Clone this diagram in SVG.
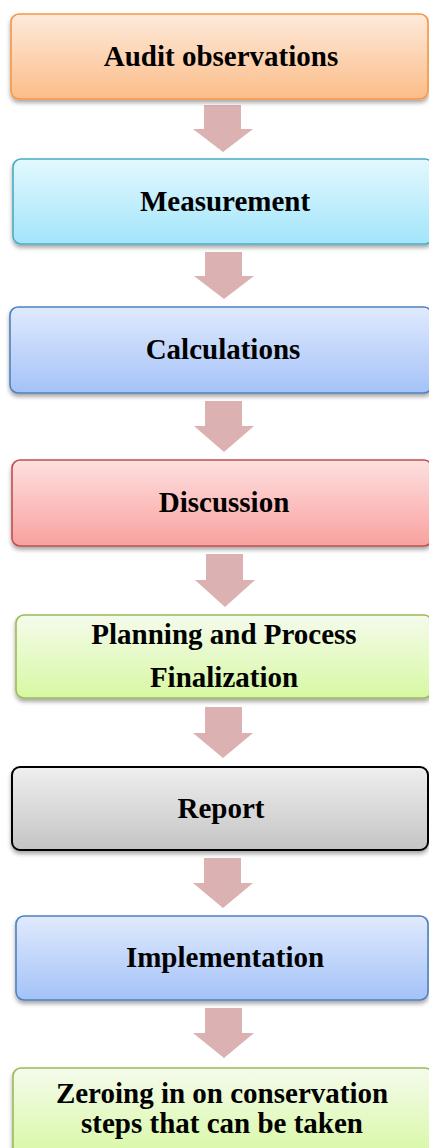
<svg xmlns="http://www.w3.org/2000/svg" width="429" height="1148" viewBox="0 0 429 1148">
  <style>
    .box { stroke-width: 1.6; filter: url(#shadow); }
    .label { font-family: "Liberation Serif", "Times New Roman", serif; font-weight: bold; font-size: 29px; fill: #000; text-anchor: middle; }
    .arrow { fill: #DBB1B1; }
    .orange { fill: url(#gOrange); stroke: #F79646; }
    .aqua { fill: url(#gAqua); stroke: #4BACC6; }
    .blue { fill: url(#gBlue); stroke: #4F81BD; }
    .red { fill: url(#gRed); stroke: #C0504D; }
    .green { fill: url(#gGreen); stroke: #9BBB59; }
    .gray { fill: url(#gGray); stroke: #000; stroke-width: 2; }
  </style>
  <defs>
    <filter id="shadow" x="-5%" y="-10%" width="110%" height="130%">
      <feDropShadow dx="0" dy="3" stdDeviation="2" flood-color="#000" flood-opacity="0.35"/>
    </filter>
    <linearGradient id="gOrange" x1="0" y1="0" x2="0" y2="1">
      <stop offset="0" stop-color="#FEEADC"/>
      <stop offset="1" stop-color="#FBBD88"/>
    </linearGradient>
    <linearGradient id="gAqua" x1="0" y1="0" x2="0" y2="1">
      <stop offset="0" stop-color="#E3F8FE"/>
      <stop offset="1" stop-color="#A2E5FA"/>
    </linearGradient>
    <linearGradient id="gBlue" x1="0" y1="0" x2="0" y2="1">
      <stop offset="0" stop-color="#E0EAFD"/>
      <stop offset="1" stop-color="#A4C2F8"/>
    </linearGradient>
    <linearGradient id="gRed" x1="0" y1="0" x2="0" y2="1">
      <stop offset="0" stop-color="#FDE0E0"/>
      <stop offset="1" stop-color="#F9A19F"/>
    </linearGradient>
    <linearGradient id="gGreen" x1="0" y1="0" x2="0" y2="1">
      <stop offset="0" stop-color="#F5FBEC"/>
      <stop offset="1" stop-color="#D7F8A2"/>
    </linearGradient>
    <linearGradient id="gGray" x1="0" y1="0" x2="0" y2="1">
      <stop offset="0" stop-color="#EFEFEF"/>
      <stop offset="1" stop-color="#C4C4C4"/>
    </linearGradient>
  </defs>

  <!-- block arrows between steps -->
  <g id="connectors">
    <polygon class="arrow" points="204,105 241,105 241,129 253,129 223,152 193,129 204,129"/>
    <polygon class="arrow" points="205,252 242,252 242,276 254,276 224,299 194,276 205,276"/>
    <polygon class="arrow" points="205,401 242,401 242,426 254,426 224,452 194,426 205,426"/>
    <polygon class="arrow" points="206,554 243,554 243,580 255,580 225,607 195,580 206,580"/>
    <polygon class="arrow" points="205,707 242,707 242,733 253,733 223,758 193,733 205,733"/>
    <polygon class="arrow" points="204,858 241,858 241,883 253,883 223,908 193,883 204,883"/>
    <polygon class="arrow" points="205,1008 242,1008 242,1033 254,1033 224,1058 193,1033 205,1033"/>
  </g>

  <g id="step-audit">
    <rect class="box orange" x="11" y="14" width="417" height="85" rx="8"/>
    <text class="label" x="221" y="66">Audit observations</text>
  </g>
  <g id="step-measurement">
    <rect class="box aqua" x="13" y="159" width="420" height="85" rx="8"/>
    <text class="label" x="225" y="211">Measurement</text>
  </g>
  <g id="step-calculations">
    <rect class="box blue" x="10" y="307" width="422" height="86" rx="8"/>
    <text class="label" x="223" y="359">Calculations</text>
  </g>
  <g id="step-discussion">
    <rect class="box red" x="12" y="460" width="420" height="86" rx="8"/>
    <text class="label" x="224" y="512">Discussion</text>
  </g>
  <g id="step-planning">
    <rect class="box green" x="16" y="615" width="416" height="83" rx="8"/>
    <text class="label" x="224" y="644">Planning and Process</text>
    <text class="label" x="224" y="687">Finalization</text>
  </g>
  <g id="step-report">
    <rect class="box gray" x="12" y="767" width="416" height="83" rx="8"/>
    <text class="label" x="221" y="818">Report</text>
  </g>
  <g id="step-implementation">
    <rect class="box blue" x="16" y="916" width="412" height="84" rx="8"/>
    <text class="label" x="225" y="967">Implementation</text>
  </g>
  <g id="step-conservation">
    <rect class="box green" x="13" y="1068" width="420" height="92" rx="8"/>
    <text class="label" x="222" y="1103">Zeroing in on conservation</text>
    <text class="label" x="222" y="1133">steps that can be taken</text>
  </g>
</svg>
